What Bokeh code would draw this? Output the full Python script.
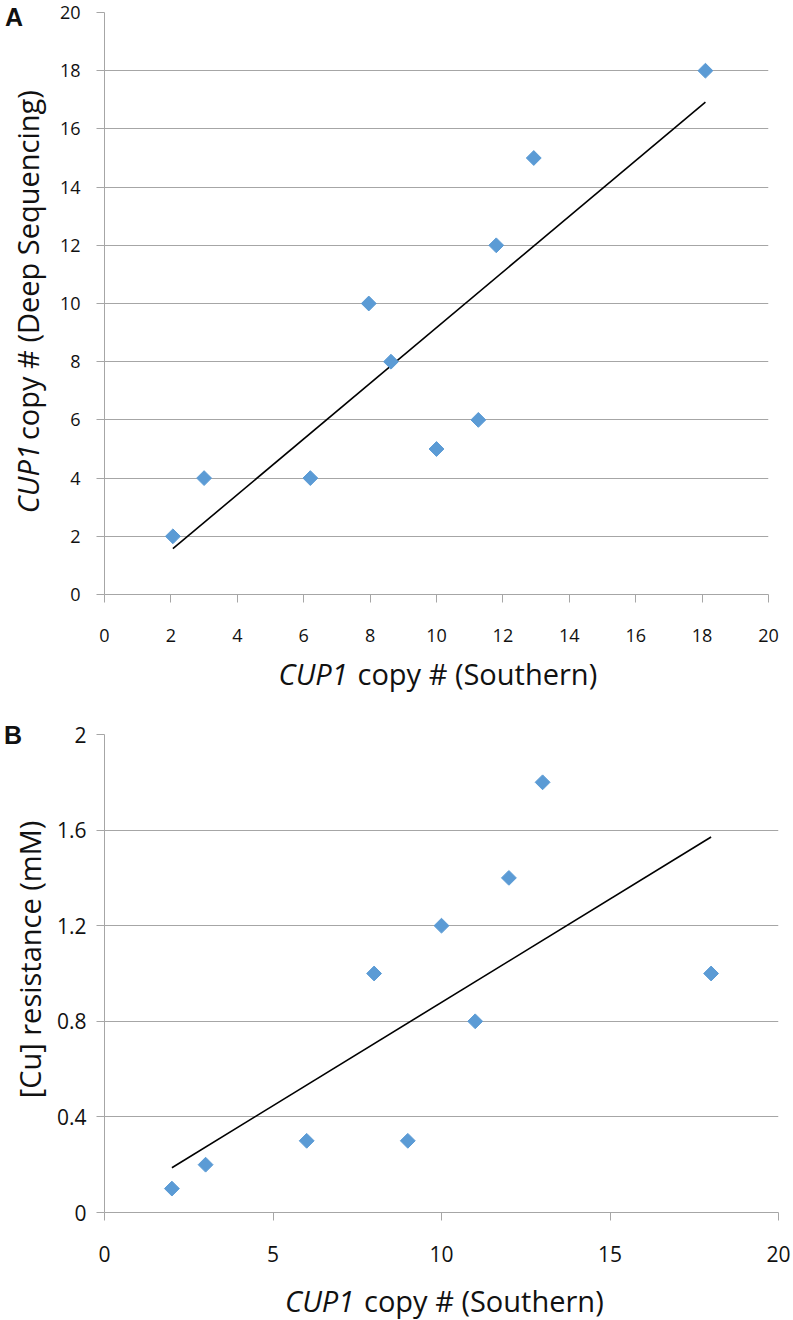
import numpy as np
from bokeh.plotting import figure
from bokeh.models import Range1d, FixedTicker
from bokeh.layouts import column, row
from bokeh.embed import file_html
from bokeh.resources import INLINE
from bokeh.core.properties import value

# ---------------- data ----------------
a_southern = [2.06, 3.0, 6.2, 7.96, 8.63, 10.0, 11.26, 11.8, 12.93, 18.1]
a_deep_seq = [2, 4, 4, 10, 8, 5, 6, 12, 15, 18]

b_southern = [2, 3, 6, 8, 9, 10, 11, 12, 13, 18]
b_cu_resistance = [0.1, 0.2, 0.3, 1.0, 0.3, 1.2, 0.8, 1.4, 1.8, 1.0]

a_x_ticks = [0, 2, 4, 6, 8, 10, 12, 14, 16, 18, 20]
a_y_ticks = [0, 2, 4, 6, 8, 10, 12, 14, 16, 18, 20]
b_x_ticks = [0, 5, 10, 15, 20]
b_y_ticks = [0, 0.4, 0.8, 1.2, 1.6, 2]
b_y_tick_labels = ["0", "0.4", "0.8", "1.2", "1.6", "2"]

# ---------------- styles ----------------
BLUE = "#5B9BD5"
GRID = "#a6a6a6"
FONT = "Open Sans"
TXT = "#111111"
W = 793
LW = 50  # width of the strip that holds the vertical axis titles
TS = 29  # axis-title font size (px)


def make_fig(w, h, bl, br, bt, bb, yr, tick_size, xstand, ystand):
    p = figure(width=w, height=h, x_range=Range1d(0, 20), y_range=Range1d(*yr),
               output_backend="svg", toolbar_location=None,
               min_border_left=bl, min_border_right=br,
               min_border_top=bt, min_border_bottom=bb, frame_align=False)
    p.outline_line_color = None
    p.background_fill_color = "white"
    p.border_fill_color = "white"
    p.xgrid.grid_line_color = None
    p.ygrid.grid_line_color = GRID
    p.ygrid.grid_line_width = 1
    for ax in p.axis:
        ax.axis_line_color = GRID
        ax.axis_line_width = 1
        ax.major_tick_line_color = GRID
        ax.major_tick_out = 8
        ax.major_tick_in = 0
        ax.minor_tick_line_color = None
        ax.major_label_text_font = FONT
        ax.major_label_text_font_size = tick_size
        ax.major_label_text_color = TXT
    p.xaxis.major_label_standoff = xstand
    p.yaxis.major_label_standoff = ystand
    return p


def text_strip(w, h):
    """A bare canvas (pixel coordinates, y up) that holds axis titles."""
    s = figure(width=w, height=h, x_range=Range1d(0, w), y_range=Range1d(0, h),
               output_backend="svg", toolbar_location=None,
               x_axis_location=None, y_axis_location=None,
               min_border=0, title=None, frame_align=False)
    s.outline_line_color = None
    s.xgrid.grid_line_color = None
    s.ygrid.grid_line_color = None
    s.border_fill_color = "white"
    s.background_fill_color = "white"
    return s


def put(s, x, y, txt, size, style="normal", align="center", angle=0.0,
        font=FONT):
    s.text(x=[x], y=[y], text=[txt], text_font=value(font),
           text_font_size=value(f"{size}px"), text_font_style=style,
           text_align=align, text_baseline="middle", angle=angle,
           text_color=TXT)


# approximate advance widths (in em) of the title pieces, for centring
EM_CUP1 = 2.4
EM_GAP = 0.32
EM_SOUTH = 8.1
EM_DEEP = 11.7

# ================= panel A (page y 0 .. 700) =================
HA = 653
pa = make_fig(W - LW, HA, 104 - LW, W - 768, 12, HA - 12 - 582, (0, 20),
              "18px", 26, 16)
pa.xaxis.ticker = FixedTicker(ticks=a_x_ticks)
pa.yaxis.ticker = FixedTicker(ticks=a_y_ticks)
pa.ygrid.ticker = FixedTicker(ticks=a_y_ticks)

fa = np.polyfit(a_southern, a_deep_seq, 1)
ax_line = [min(a_southern), max(a_southern)]
pa.line(ax_line, list(np.polyval(fa, ax_line)), line_color="black",
        line_width=1.6)
pa.scatter(a_southern, a_deep_seq, marker="square", angle=np.pi / 4,
           size=10.5, fill_color=BLUE, line_color=BLUE)

ya = text_strip(LW, HA)
put(ya, 13.5, HA - 16.5, "A", 25, style="bold", font="Liberation Sans")
# vertical title, centred on page y 304, reading bottom -> top
total = (EM_CUP1 + EM_GAP + EM_DEEP) * TS
start = 304 + total / 2                       # page y where text begins
c1 = start - EM_CUP1 * TS / 2
c2 = start - (EM_CUP1 + EM_GAP) * TS - EM_DEEP * TS / 2
put(ya, 27, HA - c1, "CUP1", TS, style="italic", angle=np.pi / 2)
put(ya, 27, HA - c2, "copy # (Deep Sequencing)", TS, angle=np.pi / 2)

XA_H = 700 - HA
xa = text_strip(W, XA_H)
totx = (EM_CUP1 + EM_GAP + EM_SOUTH) * TS
sx = 435 - totx / 2
put(xa, sx, 700 - 673, "CUP1", TS, style="italic", align="left")
put(xa, sx + (EM_CUP1 + EM_GAP) * TS, 700 - 673, "copy # (Southern)", TS,
    align="left")

# ================= panel B (page y 700 .. 1320) =================
HB = 575
pb = make_fig(W - LW, HB, 104 - LW, W - 778, 34, HB - 34 - 478, (0, 2),
              "21px", 25, 10)
pb.xaxis.ticker = FixedTicker(ticks=b_x_ticks)
pb.yaxis.ticker = FixedTicker(ticks=b_y_ticks)
pb.ygrid.ticker = FixedTicker(ticks=b_y_ticks)
pb.yaxis.major_label_overrides = {t: l for t, l in zip(b_y_ticks, b_y_tick_labels)}

fb = np.polyfit(b_southern, b_cu_resistance, 1)
bx_line = [min(b_southern), max(b_southern)]
pb.line(bx_line, list(np.polyval(fb, bx_line)), line_color="black",
        line_width=1.6)
pb.scatter(b_southern, b_cu_resistance, marker="square", angle=np.pi / 4,
           size=10.5, fill_color=BLUE, line_color=BLUE)

yb = text_strip(LW, HB)
put(yb, 12.5, HB - (734 - 700), "B", 25, style="bold", font="Liberation Sans")
put(yb, 29, HB - (959 - 700), "[Cu] resistance (mM)", TS, angle=np.pi / 2)

XB_H = 1320 - 700 - HB
xb = text_strip(W, XB_H)
sxb = 441.5 - totx / 2
put(xb, sxb, 1320 - 1300, "CUP1", TS, style="italic", align="left")
put(xb, sxb + (EM_CUP1 + EM_GAP) * TS, 1320 - 1300, "copy # (Southern)", TS,
    align="left")

layout = column(row(ya, pa, spacing=0), xa, row(yb, pb, spacing=0), xb,
                spacing=0)
open("out.html", "w").write(file_html(layout, INLINE))
